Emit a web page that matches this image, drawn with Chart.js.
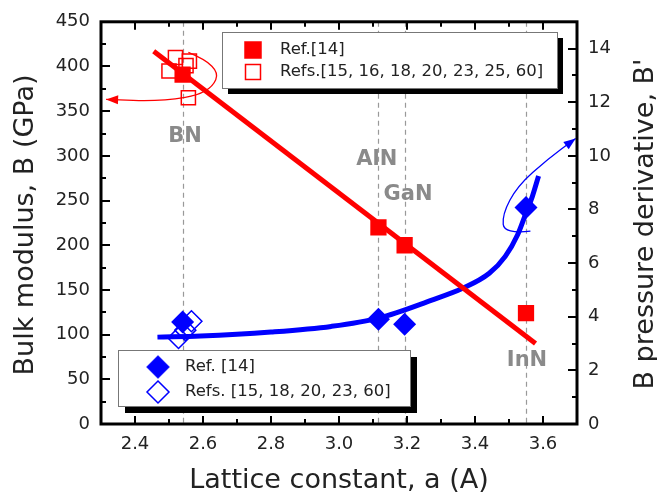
<!DOCTYPE html>
<html>
<head>
<meta charset="utf-8">
<title>Bulk modulus vs lattice constant</title>
<script src="https://cdn.jsdelivr.net/npm/chart.js@4.4.0/dist/chart.umd.min.js"></script>
<style>
  html, body { margin: 0; padding: 0; background: #fff; }
  #wrap { width: 657px; height: 498px; }
</style>
</head>
<body>
<div id="wrap"><canvas id="moduli" width="657" height="498"></canvas></div>
<script>
// nitrides and their lattice constants (A)
const compounds = ['BN', 'AlN', 'GaN', 'InN'];
const latticeA = [2.54, 3.116, 3.193, 3.55];

// Ref. [14]
const bulkRef14 = [391, 220, 200, 124];       // B, GPa
const bPrimeRef14 = [3.80, 3.91, 3.72, 8.07]; // B'

// other references, BN only
const bulkOtherA = [2.519, 2.500, 2.550, 2.560, 2.557];
const bulkOther = [410, 395, 401, 406, 365];
const bPrimeOtherA = [2.566, 2.548, 2.528];
const bPrimeOther = [3.83, 3.50, 3.21];

// trend lines
const bulkFitA = [2.455, 3.578];
const bulkFit = [417, 90];
const bPrimeFitA = [2.466, 2.593, 2.8, 2.977, 3.117, 3.273, 3.362, 3.442, 3.489, 3.525, 3.548, 3.569, 3.587];
const bPrimeFit = [3.24, 3.28, 3.43, 3.64, 3.95, 4.62, 5.05, 5.62, 6.25, 7.05, 7.8, 8.5, 9.25];

// axes
const xTicks = [2.4, 2.6, 2.8, 3.0, 3.2, 3.4, 3.6];
const bulkTicks = [0, 50, 100, 150, 200, 250, 300, 350, 400, 450];
const bPrimeTicks = [0, 2, 4, 6, 8, 10, 12, 14];

const FONT = '"DejaVu Sans", sans-serif';
const INK = '#222';
const RED = '#ff0000';
const BLUE = '#0000ff';

const pts = (xs, ys) => xs.map((x, i) => ({ x: x, y: ys[i] }));

function square(ctx, x, y, side, fill, stroke, lw) {
  ctx.beginPath();
  ctx.rect(x - side / 2, y - side / 2, side, side);
  if (fill) { ctx.fillStyle = fill; ctx.fill(); }
  if (stroke) { ctx.strokeStyle = stroke; ctx.lineWidth = lw; ctx.stroke(); }
}

function diamond(ctx, x, y, r, fill, stroke, lw) {
  ctx.beginPath();
  ctx.moveTo(x, y - r);
  ctx.lineTo(x + r, y);
  ctx.lineTo(x, y + r);
  ctx.lineTo(x - r, y);
  ctx.closePath();
  if (fill) { ctx.fillStyle = fill; ctx.fill(); }
  if (stroke) { ctx.strokeStyle = stroke; ctx.lineWidth = lw; ctx.stroke(); }
}

// thin curved arrow through a few points, head at the last one
function curvedArrow(ctx, p, color) {
  ctx.save();
  ctx.strokeStyle = color;
  ctx.fillStyle = color;
  ctx.lineWidth = 1.3;
  ctx.beginPath();
  ctx.moveTo(p[0][0], p[0][1]);
  for (let i = 1; i < p.length - 1; i++) {
    const mx = (p[i][0] + p[i + 1][0]) / 2;
    const my = (p[i][1] + p[i + 1][1]) / 2;
    ctx.quadraticCurveTo(p[i][0], p[i][1], mx, my);
  }
  const end = p[p.length - 1], prev = p[p.length - 2];
  ctx.lineTo(end[0], end[1]);
  ctx.stroke();
  const ang = Math.atan2(end[1] - prev[1], end[0] - prev[0]);
  ctx.translate(end[0], end[1]);
  ctx.rotate(ang);
  ctx.beginPath();
  ctx.moveTo(0, 0);
  ctx.lineTo(-12, -4.5);
  ctx.lineTo(-12, 4.5);
  ctx.closePath();
  ctx.fill();
  ctx.restore();
}

function legendBox(ctx, box, items) {
  ctx.save();
  ctx.fillStyle = '#000';
  ctx.fillRect(box.x + box.shadow, box.y + box.shadow, box.w, box.h);
  ctx.fillStyle = '#fff';
  ctx.fillRect(box.x, box.y, box.w, box.h);
  ctx.strokeStyle = '#777';
  ctx.lineWidth = 1;
  ctx.strokeRect(box.x + 0.5, box.y + 0.5, box.w, box.h);
  ctx.font = '16.5px ' + FONT;
  ctx.textBaseline = 'middle';
  ctx.textAlign = 'left';
  items.forEach((ds, i) => {
    const cy = box.rows[i];
    const filled = ds.backgroundColor !== 'transparent';
    if (ds.pointStyle === 'rect') {
      square(ctx, box.mx, cy, filled ? 17 : 15, filled ? ds.borderColor : null, ds.borderColor, filled ? 0.5 : 1.5);
    } else {
      diamond(ctx, box.mx, cy, filled ? 11.5 : 11, filled ? ds.borderColor : null, ds.borderColor, filled ? 0.5 : 1.5);
    }
    ctx.fillStyle = INK;
    ctx.fillText(ds.label, box.tx, cy);
  });
  ctx.restore();
}

const decorations = {
  id: 'decorations',
  beforeDatasetsDraw(chart) {
    const { ctx, chartArea: a, scales: { x } } = chart;
    ctx.save();
    ctx.strokeStyle = '#999';
    ctx.lineWidth = 1.2;
    ctx.setLineDash([5, 4]);
    latticeA.forEach(v => {
      const px = Math.round(x.getPixelForValue(v)) + 0.5;
      ctx.beginPath();
      ctx.moveTo(px, a.top);
      ctx.lineTo(px, a.bottom);
      ctx.stroke();
    });
    ctx.restore();
  },
  afterDatasetsDraw(chart) {
    const { ctx, chartArea: a, scales: { x, y, y2 } } = chart;

    // compound names
    const labelAt = { BN: [2.547, 322], AlN: [3.111, 296], GaN: [3.203, 257], InN: [3.553, 71] };
    ctx.save();
    ctx.font = 'bold 21px ' + FONT;
    ctx.fillStyle = '#8a8a8a';
    ctx.textAlign = 'center';
    ctx.textBaseline = 'middle';
    compounds.forEach(c => {
      const p = labelAt[c];
      ctx.fillText(c, x.getPixelForValue(p[0]), y.getPixelForValue(p[1]));
    });
    ctx.restore();

    // arrows pointing to the axis each series belongs to
    const redArrow = [[2.557, 415.7], [2.655, 400.3], [2.62, 370], [2.475, 360.9], [2.315, 363.2]];
    const blueArrow = [[3.563, 7.19], [3.486, 7.08], [3.480, 7.81], [3.525, 8.88], [3.614, 9.88], [3.696, 10.65]];
    curvedArrow(ctx, redArrow.map(p => [x.getPixelForValue(p[0]), y.getPixelForValue(p[1])]), RED);
    curvedArrow(ctx, blueArrow.map(p => [x.getPixelForValue(p[0]), y2.getPixelForValue(p[1])]), BLUE);

    // frame with inward ticks on all sides
    ctx.save();
    ctx.strokeStyle = '#000';
    ctx.lineWidth = 3;
    ctx.strokeRect(a.left, a.top, a.right - a.left, a.bottom - a.top);
    ctx.lineWidth = 2;
    const tick = (x1, y1, x2, y2_) => { ctx.beginPath(); ctx.moveTo(x1, y1); ctx.lineTo(x2, y2_); ctx.stroke(); };
    for (let v = 2.3; v <= 3.7001; v += 0.1) {
      const major = xTicks.some(t => Math.abs(t - v) < 1e-6);
      const len = major ? 8 : 5;
      const px = Math.round(x.getPixelForValue(v));
      tick(px, a.bottom, px, a.bottom - len);
      tick(px, a.top, px, a.top + len);
    }
    for (let v = 0; v <= 450; v += 25) {
      const len = v % 50 === 0 ? 9 : 5;
      const py = Math.round(y.getPixelForValue(v));
      tick(a.left, py, a.left + len, py);
    }
    for (let v = 0; v <= 15; v += 1) {
      const len = v % 2 === 0 ? 9 : 5;
      const py = Math.round(y2.getPixelForValue(v));
      tick(a.right, py, a.right - len, py);
    }
    ctx.restore();

    // legends
    const ds = chart.data.datasets;
    legendBox(ctx, { x: 222, y: 32, w: 335, h: 56, shadow: 6, mx: 253, tx: 280, rows: [50, 72] }, [ds[0], ds[4]]);
    legendBox(ctx, { x: 118, y: 350, w: 292, h: 56, shadow: 7, mx: 158, tx: 185, rows: [367, 392] }, [ds[1], ds[5]]);

    // axis titles
    ctx.save();
    ctx.font = '27px ' + FONT;
    ctx.fillStyle = INK;
    ctx.textAlign = 'center';
    ctx.textBaseline = 'alphabetic';
    ctx.fillText('Lattice constant, a (A)', (a.left + a.right) / 2, 488);
    ctx.translate(33, 225);
    ctx.rotate(-Math.PI / 2);
    ctx.fillText('Bulk modulus, B (GPa)', 0, 0);
    ctx.restore();
    ctx.save();
    ctx.font = '27px ' + FONT;
    ctx.fillStyle = INK;
    ctx.textAlign = 'center';
    ctx.translate(653, 224);
    ctx.rotate(-Math.PI / 2);
    ctx.fillText("B pressure derivative, B'", 0, 0);
    ctx.restore();
  }
};

const tickFont = { family: FONT, size: 18 };

new Chart(document.getElementById('moduli'), {
  type: 'scatter',
  data: {
    datasets: [
      {
        label: 'Ref.[14]',
        data: pts(latticeA, bulkRef14),
        yAxisID: 'y',
        pointStyle: 'rect',
        pointRadius: 11.5,
        backgroundColor: RED,
        borderColor: RED,
        borderWidth: 0
      },
      {
        label: 'Ref. [14]',
        data: pts(latticeA, bPrimeRef14),
        yAxisID: 'y2',
        pointStyle: 'rectRot',
        pointRadius: 11.5,
        backgroundColor: BLUE,
        borderColor: BLUE,
        borderWidth: 0
      },
      {
        type: 'line',
        label: 'B trend',
        data: pts(bulkFitA, bulkFit),
        yAxisID: 'y',
        borderColor: RED,
        borderWidth: 5,
        pointRadius: 0,
        fill: false
      },
      {
        type: 'line',
        label: "B' trend",
        data: pts(bPrimeFitA, bPrimeFit),
        yAxisID: 'y2',
        borderColor: BLUE,
        borderWidth: 5,
        pointRadius: 0,
        cubicInterpolationMode: 'monotone',
        fill: false
      },
      {
        label: 'Refs.[15, 16, 18, 20, 23, 25, 60]',
        data: pts(bulkOtherA, bulkOther),
        yAxisID: 'y',
        pointStyle: 'rect',
        pointRadius: 10,
        backgroundColor: 'transparent',
        borderColor: RED,
        borderWidth: 1.5
      },
      {
        label: 'Refs. [15, 18, 20, 23, 60]',
        data: pts(bPrimeOtherA, bPrimeOther),
        yAxisID: 'y2',
        pointStyle: 'rectRot',
        pointRadius: 10.5,
        backgroundColor: 'transparent',
        borderColor: BLUE,
        borderWidth: 1.5
      }
    ]
  },
  options: {
    responsive: false,
    animation: false,
    layout: { padding: { top: 17, left: 0, right: 0, bottom: 0 } },
    plugins: { legend: { display: false }, tooltip: { enabled: false } },
    scales: {
      x: {
        type: 'linear',
        position: 'bottom',
        min: 2.3,
        max: 3.7,
        grid: { display: false, drawTicks: false },
        border: { display: false },
        ticks: { font: tickFont, color: INK, padding: 10, callback: v => v.toFixed(1) },
        afterBuildTicks: s => { s.ticks = xTicks.map(v => ({ value: v })); },
        afterFit: s => { s.height = 74; }
      },
      y: {
        position: 'left',
        min: 0,
        max: 450,
        grid: { display: false, drawTicks: false },
        border: { display: false },
        ticks: { font: tickFont, color: INK, padding: 11 },
        afterBuildTicks: s => { s.ticks = bulkTicks.map(v => ({ value: v })); },
        afterFit: s => { s.width = 101; }
      },
      y2: {
        position: 'right',
        min: 0,
        max: 15,
        grid: { display: false, drawTicks: false },
        border: { display: false },
        ticks: { font: tickFont, color: INK, padding: 11 },
        afterBuildTicks: s => { s.ticks = bPrimeTicks.map(v => ({ value: v })); },
        afterFit: s => { s.width = 80; }
      }
    }
  },
  plugins: [decorations]
});
</script>
</body>
</html>
